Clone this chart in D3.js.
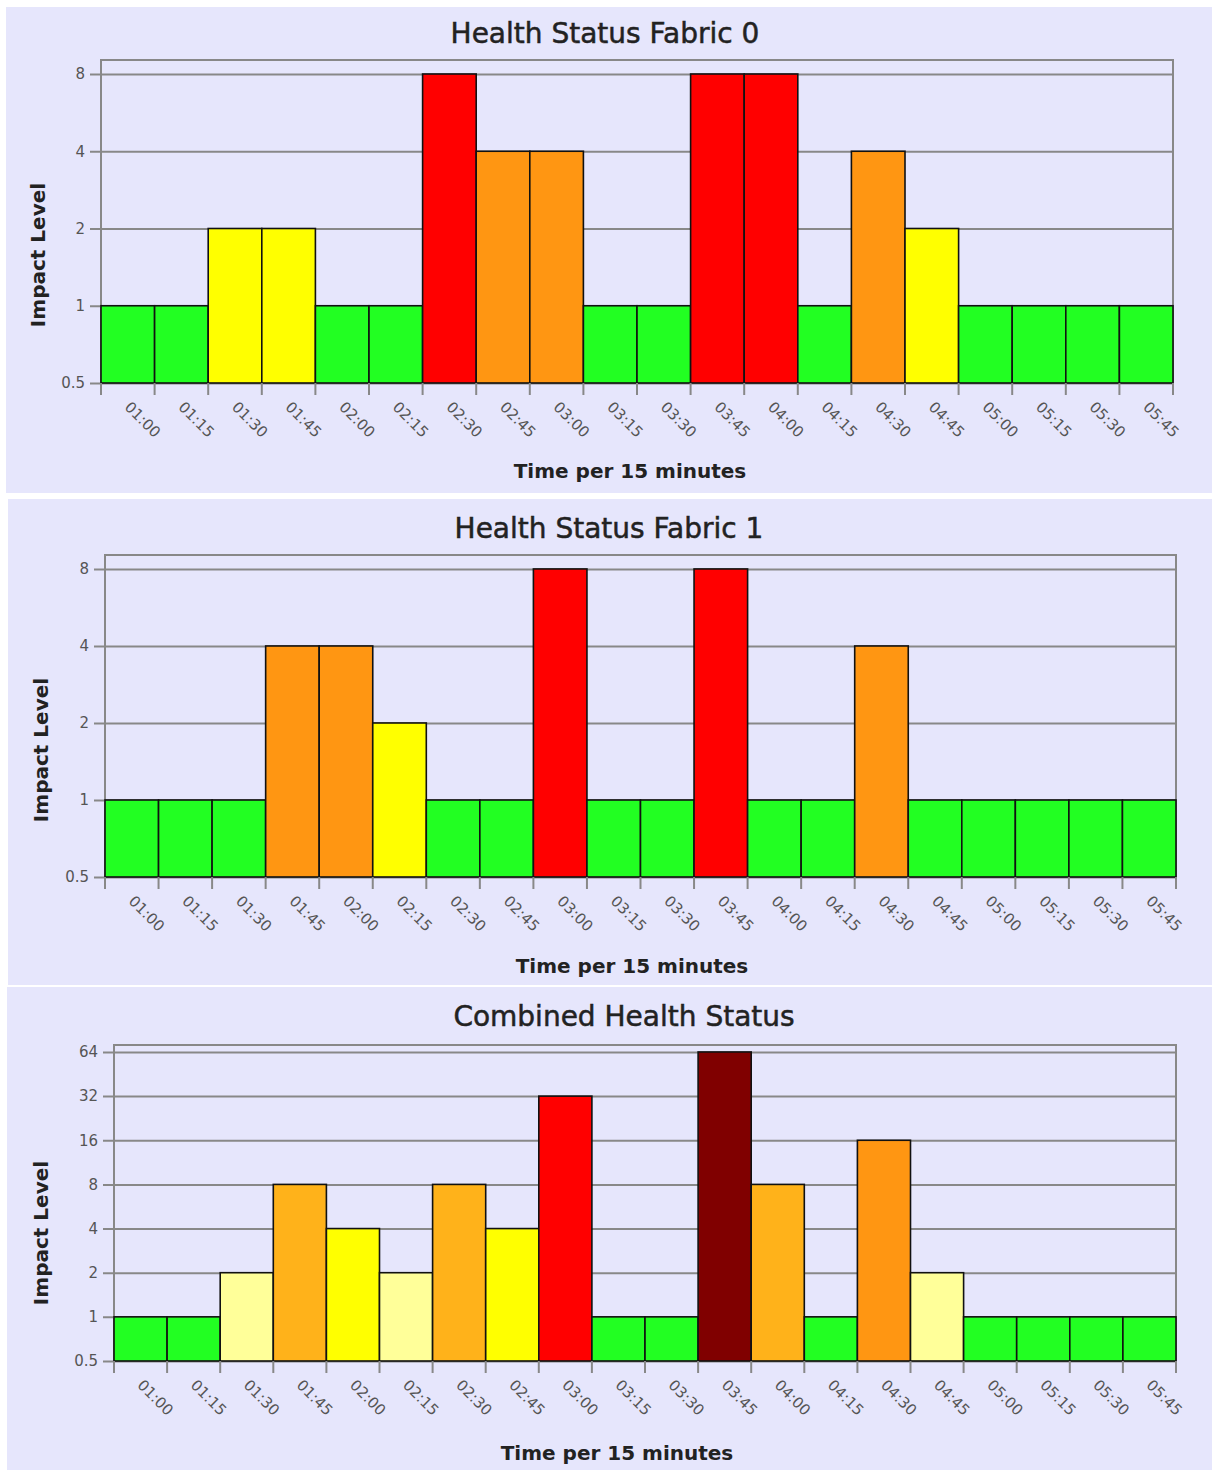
<!DOCTYPE html>
<html>
<head>
<meta charset="utf-8">
<script src="https://cdn.jsdelivr.net/npm/d3@7"></script>
<style>
  body { margin: 0; background: #fff; }
  text { font-family: "DejaVu Sans", sans-serif; }
</style>
</head>
<body>
<svg id="chart" width="1212" height="1470"></svg>
<script>
// time slots (15 min)
const slots = ["01:00", "01:15", "01:30", "01:45", "02:00", "02:15", "02:30", "02:45", "03:00", "03:15",
  "03:30", "03:45", "04:00", "04:15", "04:30", "04:45", "05:00", "05:15", "05:30", "05:45"];

const fabric0 = [1, 1, 2, 2, 1, 1, 8, 4, 4, 1, 1, 8, 8, 1, 4, 2, 1, 1, 1, 1];
const fabric1 = [1, 1, 1, 4, 4, 2, 1, 1, 8, 1, 1, 8, 1, 1, 4, 1, 1, 1, 1, 1];
const combined = [1, 1, 2, 8, 4, 2, 8, 4, 32, 1, 1, 64, 8, 1, 16, 2, 1, 1, 1, 1];

const fabricTicks = [0.5, 1, 2, 4, 8];
const combinedTicks = [0.5, 1, 2, 4, 8, 16, 32, 64];

const titles = ["Health Status Fabric 0", "Health Status Fabric 1", "Combined Health Status"];
const xTitle = "Time per 15 minutes";
const yTitle = "Impact Level";

// colour per impact level
const fabricColor = d3.scaleOrdinal().domain([1, 2, 4, 8])
  .range(["#22ff22", "#ffff00", "#ff9612", "#ff0000"]);
const combinedColor = d3.scaleOrdinal().domain([1, 2, 4, 8, 16, 32, 64])
  .range(["#22ff22", "#ffff99", "#ffff00", "#ffb21a", "#ff9612", "#ff0000", "#800000"]);

const svg = d3.select("#chart");

const panels = [
  {x: 6, y: 7, w: 1206, h: 486, left: 101, right: 1173, top: 60, bottom: 383, yMax: 9.07,
   values: fabric0, ticks: fabricTicks, color: fabricColor,
   title: [605, 43], xlab: [630, 478], ylab: [45, 255]},
  {x: 8, y: 499, w: 1204, h: 486, left: 105, right: 1176, top: 555, bottom: 877, yMax: 9.07,
   values: fabric1, ticks: fabricTicks, color: fabricColor,
   title: [609, 538], xlab: [632, 973], ylab: [48, 750]},
  {x: 7, y: 987, w: 1205, h: 483, left: 114, right: 1176, top: 1045, bottom: 1361, yMax: 71.4,
   values: combined, ticks: combinedTicks, color: combinedColor,
   title: [624, 1026], xlab: [617, 1460], ylab: [48, 1233]}
];

panels.forEach((p, idx) => {
  svg.append("rect")
    .attr("x", p.x).attr("y", p.y)
    .attr("width", p.w).attr("height", p.h)
    .attr("fill", "#e6e6fc");

  let x = d3.scaleBand().domain(slots).range([p.left, p.right]).padding(0);
  let y = d3.scaleLog().base(2).domain([0.5, p.yMax]).range([p.bottom, p.top]);

  // grid + y axis
  let yAxis = d3.axisLeft(y).tickValues(p.ticks)
    .tickFormat(d => d)
    .tickSize(-(p.right - p.left))
    .tickSizeOuter(0);
  let gy = svg.append("g")
    .attr("transform", `translate(${p.left},0)`)
    .call(yAxis);
  gy.select(".domain").remove();
  gy.selectAll(".tick line")
    .attr("x1", -11)
    .attr("stroke", "#888")
    .attr("stroke-width", 2);
  gy.selectAll(".tick text")
    .attr("x", -16)
    .attr("fill", "#555")
    .style("font-size", "15px")
    .style("font-family", "DejaVu Sans");

  // frame
  svg.append("rect")
    .attr("x", p.left).attr("y", p.top)
    .attr("width", p.right - p.left).attr("height", p.bottom - p.top)
    .attr("fill", "none")
    .attr("stroke", "#888")
    .attr("stroke-width", 2);

  // bars
  svg.append("g").selectAll("rect")
    .data(p.values)
    .join("rect")
    .attr("x", (d, i) => x(slots[i]))
    .attr("y", d => y(d))
    .attr("width", x.bandwidth())
    .attr("height", d => y(0.5) - y(d))
    .attr("fill", d => p.color(d))
    .attr("stroke", "#111")
    .attr("stroke-width", 1.6);

  // x ticks at slot boundaries
  let edges = slots.map(s => x(s)).concat([p.right]);
  svg.append("g").selectAll("line")
    .data(edges)
    .join("line")
    .attr("x1", d => d).attr("x2", d => d)
    .attr("y1", p.bottom).attr("y2", p.bottom + 12)
    .attr("stroke", "#888")
    .attr("stroke-width", 2);

  // rotated slot labels
  svg.append("g").selectAll("text")
    .data(slots)
    .join("text")
    .attr("transform", d => `translate(${x(d) + x.bandwidth() / 2 - 4},${p.bottom + 25}) rotate(45)`)
    .attr("fill", "#555")
    .style("font-size", "15px")
    .text(d => d);

  svg.append("text")
    .attr("x", p.title[0]).attr("y", p.title[1])
    .attr("text-anchor", "middle")
    .attr("fill", "#222")
    .attr("stroke", "#222")
    .attr("stroke-width", 0.5)
    .style("font-size", "28px")
    .text(titles[idx]);

  svg.append("text")
    .attr("x", p.xlab[0]).attr("y", p.xlab[1])
    .attr("text-anchor", "middle")
    .attr("fill", "#222")
    .style("font-size", "20px")
    .style("font-weight", "bold")
    .text(xTitle);

  svg.append("text")
    .attr("transform", `translate(${p.ylab[0]},${p.ylab[1]}) rotate(-90)`)
    .attr("text-anchor", "middle")
    .attr("fill", "#222")
    .style("font-size", "20px")
    .style("font-weight", "bold")
    .text(yTitle);
});
</script>
</body>
</html>
